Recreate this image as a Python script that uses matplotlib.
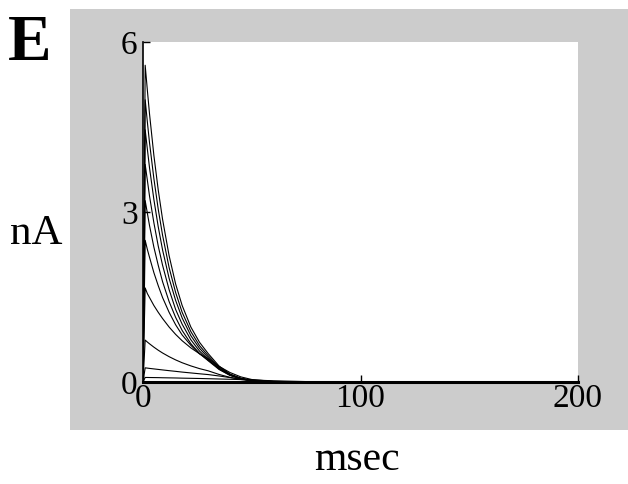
import matplotlib.pyplot as plt
from matplotlib.patches import Rectangle


# sample times (ms) shared by every trace
time_ms = [0, 1, 2, 3, 5, 7, 9, 12, 15, 18, 22, 26, 30, 35, 40, 45, 50, 60, 80, 200]

# current traces (nA), largest to smallest
trace_1 = [0, 5.59, 5.15, 4.73, 4.00, 3.39, 2.87, 2.23, 1.73, 1.35, 0.97, 0.70, 0.50, 0.28, 0.141, 0.065, 0.026, 0.004, 0.0, 0.0]
trace_2 = [0, 4.98, 4.59, 4.22, 3.59, 3.05, 2.59, 2.02, 1.58, 1.23, 0.89, 0.641, 0.462, 0.261, 0.132, 0.061, 0.025, 0.004, 0.0, 0.0]
trace_3 = [0, 4.45, 4.11, 3.78, 3.22, 2.74, 2.33, 1.83, 1.44, 1.13, 0.818, 0.593, 0.429, 0.243, 0.124, 0.058, 0.024, 0.004, 0.0, 0.0]
trace_4 = [0, 3.84, 3.56, 3.28, 2.81, 2.40, 2.06, 1.63, 1.28, 1.02, 0.745, 0.545, 0.399, 0.229, 0.119, 0.056, 0.024, 0.004, 0.0, 0.0]
trace_5 = [0, 3.20, 2.98, 2.76, 2.38, 2.06, 1.77, 1.42, 1.14, 0.91, 0.676, 0.503, 0.374, 0.220, 0.116, 0.056, 0.024, 0.004, 0.0, 0.0]
trace_6 = [0, 2.50, 2.34, 2.20, 1.93, 1.70, 1.49, 1.23, 1.01, 0.83, 0.647, 0.498, 0.385, 0.237, 0.131, 0.066, 0.029, 0.006, 0.0, 0.0]
trace_7 = [0, 1.66, 1.56, 1.49, 1.35, 1.23, 1.12, 0.97, 0.84, 0.728, 0.602, 0.498, 0.412, 0.275, 0.167, 0.090, 0.044, 0.010, 0.0, 0.0]
trace_8 = [0, 0.74, 0.705, 0.674, 0.615, 0.561, 0.512, 0.447, 0.390, 0.340, 0.284, 0.236, 0.197, 0.133, 0.082, 0.044, 0.022, 0.005, 0.0, 0.0]
trace_9 = [0, 0.25, 0.245, 0.240, 0.231, 0.222, 0.213, 0.200, 0.188, 0.175, 0.160, 0.145, 0.131, 0.106, 0.078, 0.051, 0.031, 0.010, 0.001, 0.0]
trace_10 = [0, 0.08, 0.08, 0.079, 0.078, 0.077, 0.075, 0.073, 0.071, 0.068, 0.065, 0.062, 0.058, 0.053, 0.048, 0.043, 0.037, 0.021, 0.003, 0.0]

traces = [trace_1, trace_2, trace_3, trace_4, trace_5,
          trace_6, trace_7, trace_8, trace_9, trace_10]

x_ticks = [0, 100, 200]
y_ticks = [0, 3, 6]

GREY = "#CCCCCC"


def main():
    plt.rcParams["font.family"] = ["Liberation Serif", "DejaVu Serif"]

    fig = plt.figure(figsize=(6.28, 4.84), dpi=100)
    fig.patch.set_facecolor("white")

    # grey panel behind the plot
    fig.patches.append(
        Rectangle((70 / 628, 54 / 484), 558 / 628, 421 / 484,
                  transform=fig.transFigure, facecolor=GREY,
                  edgecolor="none", zorder=-1)
    )

    ax = fig.add_axes([143 / 628, 102 / 484, 435 / 628, 340 / 484])
    ax.set_zorder(1)
    ax.set_facecolor("white")

    for trace in traces:
        ax.plot(time_ms, trace, color="black", linewidth=0.8, zorder=3)

    ax.set_xlim(0, 200)
    ax.set_ylim(0, 6)
    ax.set_xticks(x_ticks)
    ax.set_yticks(y_ticks)
    ax.set_xticklabels([str(v) for v in x_ticks])
    ax.set_yticklabels([str(v) for v in y_ticks])

    ax.spines["top"].set_visible(False)
    ax.spines["right"].set_visible(False)
    ax.spines["left"].set_linewidth(1.2)
    ax.spines["bottom"].set_linewidth(2.2)
    ax.tick_params(direction="in", length=5, width=1, labelsize=24,
                   colors="black", pad=1)
    ax.tick_params(axis="y", pad=4)

    fig.text(30 / 628, 1 - 44 / 484, "E", fontsize=47, fontweight="bold",
             ha="center", va="center")
    fig.text(36 / 628, 1 - 234 / 484, "nA", fontsize=31,
             ha="center", va="center")
    fig.text(357 / 628, 1 - 460 / 484, "msec", fontsize=30,
             ha="center", va="center")

    fig.savefig("out.png", dpi=100, facecolor=fig.get_facecolor())
    plt.close(fig)


if __name__ == "__main__":
    main()
